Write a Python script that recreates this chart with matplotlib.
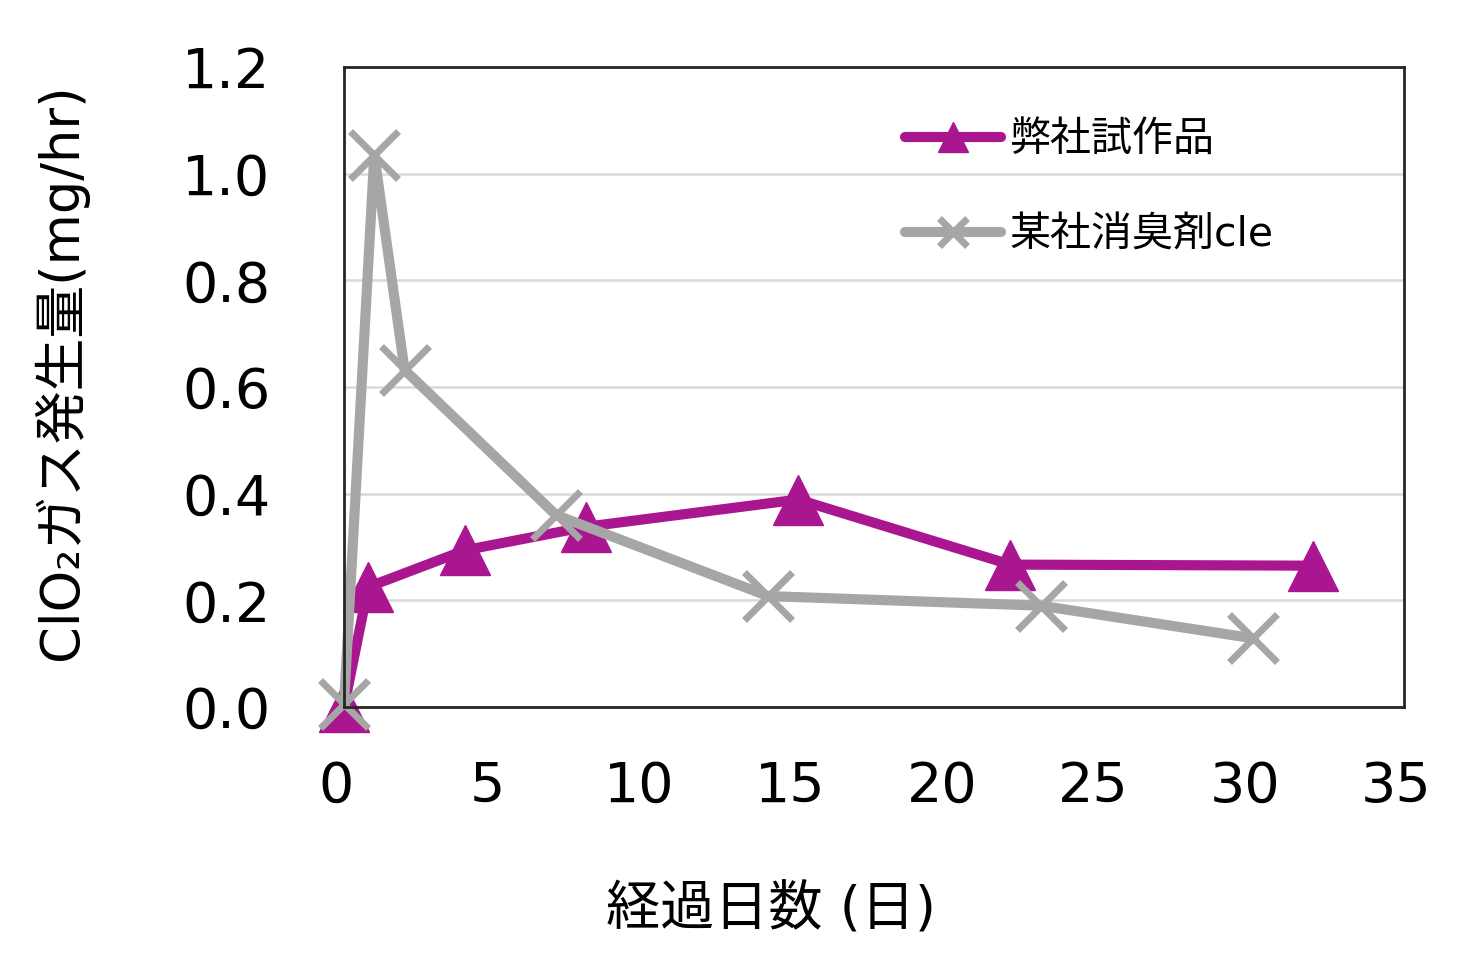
import matplotlib
matplotlib.use("Agg")
import matplotlib.pyplot as plt
import matplotlib.transforms as mtransforms

plt.rcParams['font.family'] = ['DejaVu Sans', 'Noto Sans CJK JP']

# Data
days_ours = [0, 0.8, 4, 8, 15, 22, 32]
gas_ours = [0.0, 0.225, 0.294, 0.338, 0.389, 0.267, 0.265]
days_other = [0, 1, 2, 7, 14, 23, 30]
gas_other = [0.005, 1.035, 0.632, 0.360, 0.208, 0.190, 0.129]
label_ours = "弊社試作品"
label_other = "某社消臭剤cle"
xlabel = "経過日数 (日)"
ylabel = "ClO₂ガス発生量(mg/hr)"
xticks = [0, 5, 10, 15, 20, 25, 30, 35]
yticks = [0.0, 0.2, 0.4, 0.6, 0.8, 1.0, 1.2]

purple = "#AA1590"
gray = "#A6A6A6"

fig = plt.figure(figsize=(14.76, 9.69), dpi=100)
ax = fig.add_axes([344/1476, 1-707/969, 1060/1476, 640/969])

ax.plot(days_ours, gas_ours, color=purple, lw=7.3, marker='^', ms=36,
        mec=purple, mew=1, label=label_ours, clip_on=False, zorder=3,
        solid_joinstyle='round', solid_capstyle='round')
ax.plot(days_other, gas_other, color=gray, lw=7.3, marker='x', ms=34,
        mec=gray, mew=5, label=label_other, clip_on=False, zorder=4,
        solid_joinstyle='round', solid_capstyle='round')

ax.set_xlim(0, 35)
ax.set_ylim(0, 1.2)
ax.set_xticks(xticks)
ax.set_yticks(yticks)
ax.set_yticklabels([f"{v:.1f}" for v in yticks])
ax.tick_params(axis='both', length=0, labelsize=40)
ax.tick_params(axis='y', pad=53)
ax.tick_params(axis='x', pad=38)
offset = mtransforms.ScaledTranslation(-8/100, 0, fig.dpi_scale_trans)
for lbl in ax.get_xticklabels():
    lbl.set_transform(lbl.get_transform() + offset)

ax.grid(axis='y', color='#D9D9D9', lw=1.8)
ax.set_axisbelow(True)
for s in ax.spines.values():
    s.set_color('#262626')
    s.set_linewidth(2.0)
    s.set_zorder(5)

ax.set_xlabel(xlabel, fontsize=39, va='center')
ax.xaxis.set_label_coords((771.5-344)/1060, (707-910)/640)
ax.set_ylabel(ylabel, fontsize=38, va='center', ha='center')
ax.yaxis.set_label_coords((60-344)/1060, (707-372)/640)

leg = ax.legend(loc='center left', bbox_to_anchor=((905-344)/1060, (707-187.5)/640),
                frameon=False, fontsize=29.5, handlelength=2.35, handletextpad=0.2,
                borderpad=0, borderaxespad=0, labelspacing=1.35, markerscale=0.6)

fig.savefig("out.png", dpi=100)
